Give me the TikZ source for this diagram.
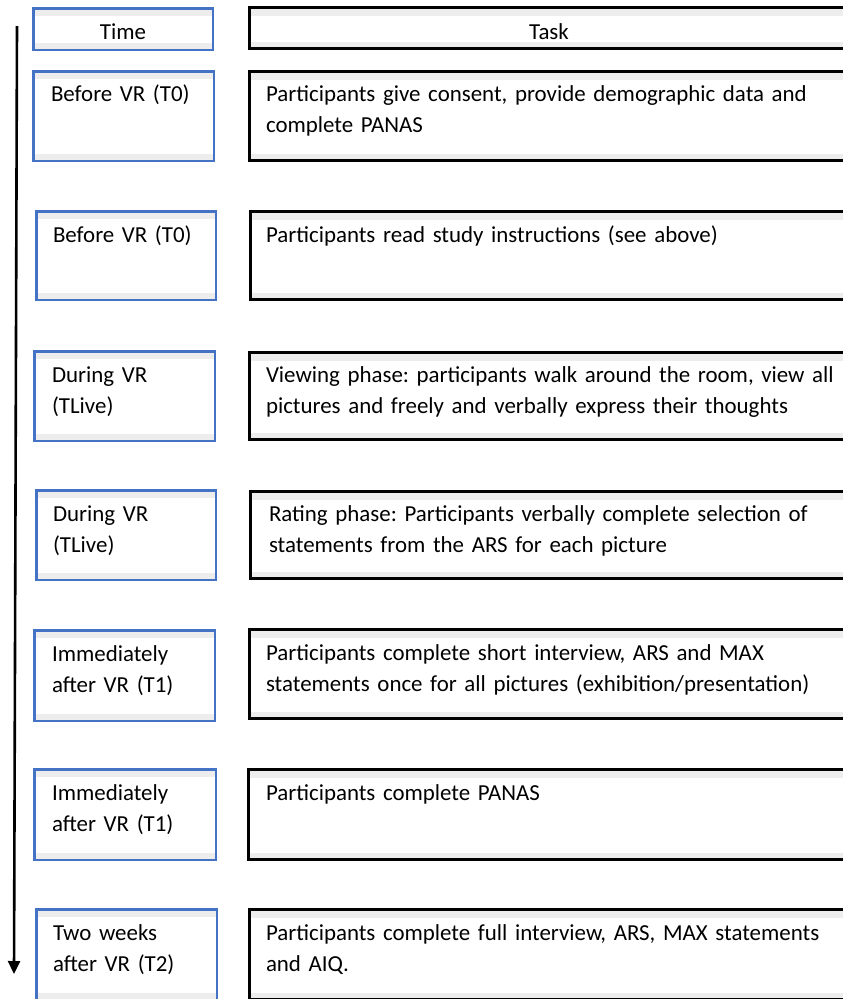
\documentclass[tikz,border=0pt]{standalone}
\usepackage{fontspec}
\setmainfont{Carlito}
\usetikzlibrary{arrows.meta}
\definecolor{officeblue}{HTML}{4472C4}
\definecolor{bandgray}{HTML}{EDEDED}
\frenchspacing
\tikzset{
  bands/.style={path picture={
    \fill[bandgray] (path picture bounding box.north west) rectangle ([yshift=-8pt]path picture bounding box.north east);
    \fill[bandgray] (path picture bounding box.south west) rectangle ([yshift=7pt]path picture bounding box.south east);}},
  lbox/.style={draw=officeblue, line width=2.5pt, fill=white, bands, inner sep=0pt, outer sep=0pt, anchor=north west},
  rbox/.style={draw=black, line width=3pt, fill=white, bands, inner sep=0pt, outer sep=0pt, anchor=north west},
  txt/.style={font=\fontsize{22.9}{31.3}\selectfont, inner sep=0pt, outer sep=0pt, align=left, anchor=base west},
  timetxt/.style={txt, text width=165pt},
  tasktxt/.style={txt, text width=600pt},
  hdr/.style={font=\fontsize{22.9}{31.3}\selectfont, inner sep=0pt, anchor=base},
  timeline/.style={draw=black, line width=2.6pt, -{Triangle[width=12pt,length=13pt]}}
}
% #1 name, #2 style, #3 x1, #4 y1, #5 x2, #6 y2 (outer edges), #7 line width
\newcommand\placebox[7]{%
  \node[#2, minimum width={#5-#3-#7}, minimum height={#6-#4-#7}] (#1) at ({#3+#7/2},{#4+#7/2}) {};}
\begin{document}
\begin{tikzpicture}[x=1pt,y=-1pt]
\useasboundingbox (0,0) rectangle (843,999);
\clip (0,0) rectangle (843,999);
% timeline arrow
\coordinate (atop) at (17,26);
\coordinate (abot) at (14,974);
\draw[timeline] (atop) -- (abot);
% header
\placebox{L0}{lbox}{32}{7}{214}{51}{2.5}
\placebox{R0}{rbox}{248}{6}{851}{50}{3}
\node[hdr] (tl0) at (123,39) {Time};
\node[hdr] (tr0) at (549,39) {Task};
% row 1
\placebox{L1}{lbox}{32}{70}{215}{162}{2.5}
\placebox{R1}{rbox}{248}{70}{851}{162}{3}
\node[timetxt] (tl1) at (51,101) {Before VR (T0)};
\node[tasktxt] (tr1) at (266,101) {Participants give consent, provide demographic data and\\complete PANAS};
% row 2
\placebox{L2}{lbox}{35}{210}{217}{301}{2.5}
\placebox{R2}{rbox}{249}{210}{851}{301}{3}
\node[timetxt] (tl2) at (53,242) {Before VR (T0)};
\node[tasktxt] (tr2) at (266,242) {Participants read study instructions (see above)};
% row 3
\placebox{L3}{lbox}{33}{350}{216}{442}{2.5}
\placebox{R3}{rbox}{248}{351}{851}{441}{3}
\node[timetxt] (tl3) at (52,382) {During VR\\(TLive)};
\node[tasktxt] (tr3) at (266,382) {Viewing phase: participants walk around the room, view all\\pictures and freely and verbally express their thoughts};
% row 4
\placebox{L4}{lbox}{35}{489}{217}{581}{2.5}
\placebox{R4}{rbox}{249}{490}{851}{580}{3}
\node[timetxt] (tl4) at (53,521) {During VR\\(TLive)};
\node[tasktxt] (tr4) at (269,521) {Rating phase: Participants verbally complete selection of\\statements from the ARS for each picture};
% row 5
\placebox{L5}{lbox}{33}{629}{216}{722}{2.5}
\placebox{R5}{rbox}{248}{628}{851}{720}{3}
\node[timetxt] (tl5) at (52,661) {Immediately\\after VR (T1)};
\node[tasktxt] (tr5) at (266,660) {Participants complete short interview, ARS and MAX\\statements once for all pictures (exhibition/presentation)};
% row 6
\placebox{L6}{lbox}{33}{768}{217}{861}{2.5}
\placebox{R6}{rbox}{247}{768}{851}{861}{3}
\node[timetxt] (tl6) at (52,800) {Immediately\\after VR (T1)};
\node[tasktxt] (tr6) at (266,800) {Participants complete PANAS};
% row 7
\placebox{L7}{lbox}{35}{908}{218}{1001}{2.5}
\placebox{R7}{rbox}{248}{908}{851}{1001}{3}
\node[timetxt] (tl7) at (53,940) {Two weeks\\after VR (T2)};
\node[tasktxt] (tr7) at (266,940) {Participants complete full interview, ARS, MAX statements\\and AIQ.};
\end{tikzpicture}
\end{document}
